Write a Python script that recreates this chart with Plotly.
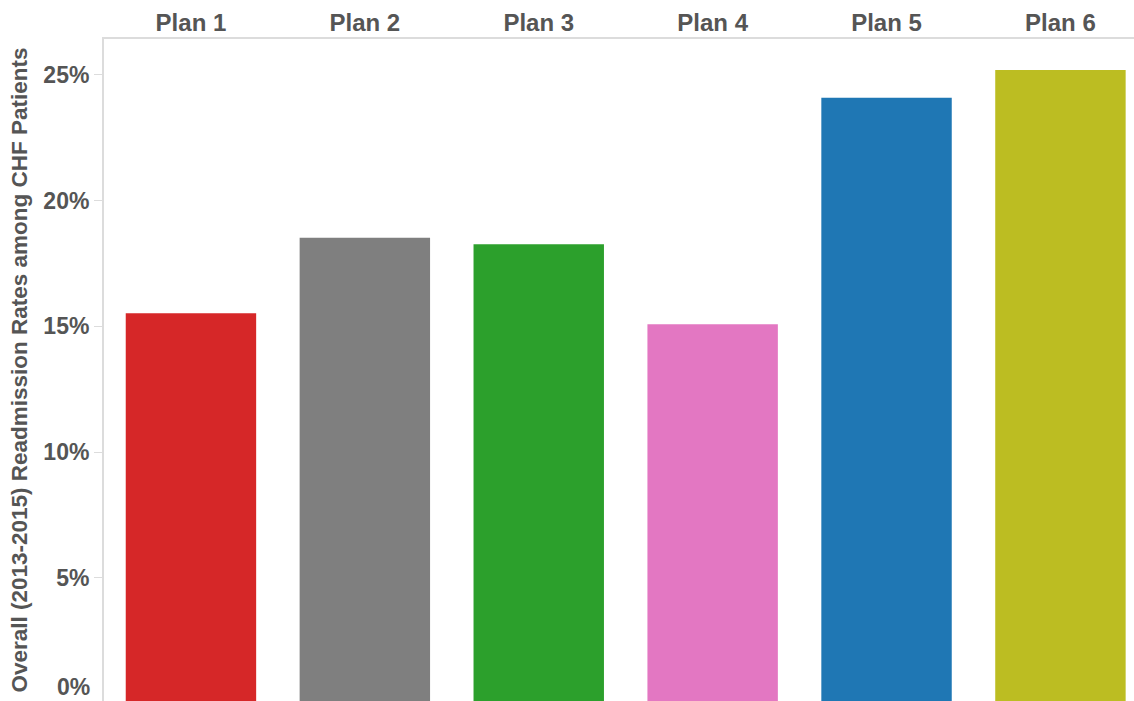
import plotly.graph_objects as go

plans = ["Plan 1", "Plan 2", "Plan 3", "Plan 4", "Plan 5", "Plan 6"]
rates = [15.52, 18.53, 18.27, 15.08, 24.09, 25.20]
colors = ["#d62728", "#7f7f7f", "#2ca02c", "#e377c2", "#1f77b4", "#bcbd22"]
ytick_vals = [5, 10, 15, 20, 25]
ytick_text = ["5%", "10%", "15%", "20%", "25%"]

FONT = "Liberation Sans, Arial, sans-serif"
TXT = "#555555"
LINE = "#dcdcdc"

fig = go.Figure(
    go.Bar(
        x=plans,
        y=rates,
        marker=dict(color=colors, line=dict(width=0)),
        hoverinfo="x+y",
    )
)

fig.update_layout(
    width=1134,
    height=701,
    margin=dict(l=104, r=0, t=39, b=0),
    paper_bgcolor="white",
    plot_bgcolor="white",
    bargap=0.25,
    showlegend=False,
    font=dict(family=FONT, color=TXT),
)

fig.update_xaxes(
    type="category",
    side="top",
    range=[-0.5, 5.423],
    showline=True,
    linecolor=LINE,
    linewidth=2,
    mirror=False,
    ticks="",
    showgrid=False,
    tickfont=dict(family=FONT, size=24, color=TXT, weight="bold"),
    ticklabelstandoff=-4,
)

fig.update_yaxes(
    range=[0.1, 26.43],
    tickvals=ytick_vals,
    ticktext=ytick_text,
    showline=True,
    linecolor=LINE,
    linewidth=2,
    ticks="outside",
    ticklen=8,
    tickcolor=LINE,
    tickwidth=1,
    showgrid=False,
    zeroline=False,
    tickfont=dict(family=FONT, size=23, color=TXT, weight="bold"),
    title=dict(
        text="Overall (2013-2015) Readmission Rates among CHF Patients",
        font=dict(family=FONT, size=22.5, color=TXT, weight="bold"),
        standoff=9,
    ),
)

fig.add_annotation(
    text="0%",
    xref="paper",
    yref="paper",
    x=0,
    y=0,
    xanchor="right",
    yanchor="bottom",
    xshift=-12,
    yshift=-1,
    showarrow=False,
    font=dict(family=FONT, size=23, color=TXT, weight="bold"),
)

fig.write_html("out.html")
